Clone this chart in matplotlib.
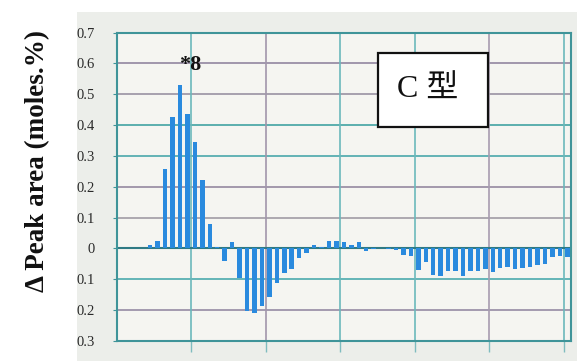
import matplotlib
matplotlib.use("Agg")
import matplotlib.pyplot as plt
from matplotlib.patches import Rectangle

# Change in peak area for each fraction (index 0..60)
fractions = list(range(61))
delta_area = [
    0.0, 0.0, 0.0, 0.0, 0.011, 0.024, 0.258, 0.425, 0.53, 0.435,
    0.345, 0.222, 0.08, 0.004, -0.04, 0.02, -0.095, -0.202, -0.208, -0.186,
    -0.156, -0.112, -0.078, -0.065, -0.03, -0.014, 0.01, 0.006, 0.025, 0.025,
    0.022, 0.01, 0.02, -0.008, -0.002, 0.0, -0.002, -0.005, -0.02, -0.025,
    -0.07, -0.045, -0.085, -0.09, -0.072, -0.072, -0.09, -0.073, -0.073, -0.068,
    -0.075, -0.062, -0.06, -0.068, -0.063, -0.06, -0.054, -0.05, -0.027, -0.023,
    -0.028,
]
y_ticks = [0.7, 0.6, 0.5, 0.4, 0.3, 0.2, 0.1, 0.0, -0.1, -0.2, -0.3]
y_tick_labels = ["0.7", "0.6", "0.5", "0.4", "0.3", "0.2", "0.1", "0", "0.1", "0.2", "0.3"]
peak_index = 8
peak_label = "*8"
type_label = "C 型"
y_label = "Δ Peak area (moles.%)"

fig = plt.figure(figsize=(5.77, 3.61), dpi=100)
fig.patch.set_facecolor("white")

# paper-coloured panel behind the chart
fig.patches.append(Rectangle((77 / 577, 0), 1, 1 - 12 / 361, transform=fig.transFigure,
                             facecolor="#eceeea", edgecolor="none", zorder=-10))

ax = fig.add_axes([116.7 / 577, 1 - 341 / 361, (571 - 116.7) / 577, (341 - 32.5) / 361])
ax.set_facecolor("#f5f5f1")

ax.set_xlim(-0.5, 60.5)
ax.set_ylim(-0.3, 0.7)

# horizontal grid lines
h_grid = [0.6, 0.5, 0.4, 0.3, 0.2, 0.1, -0.1, -0.2]
h_colors = ["#9a8ea6", "#a09aa8", "#4fa9a8", "#57aeb0", "#9c91a6", "#a7a2ab", "#58b0b2", "#9d93aa"]
for yv, c in zip(h_grid, h_colors):
    ax.axhline(yv, color=c, lw=1.3, zorder=1)

# vertical grid lines between groups of ten fractions
v_grid = [9.5, 19.5, 29.5, 39.5, 49.5, 59.5]
v_colors = ["#6bb8bb", "#a196ab", "#6bb8bb", "#6cb9bc", "#a79cb0", "#6bb8bb"]
for xv, c in zip(v_grid, v_colors):
    ax.axvline(xv, color=c, lw=1.2, zorder=1)

ax.bar(fractions, delta_area, width=0.6, color="#2a8ade", edgecolor="none", zorder=3)
ax.axhline(0, color="#2f7a84", lw=1.5, zorder=2)

for s in ax.spines.values():
    s.set_color("#3f9499")
    s.set_linewidth(1.5)

ax.set_xticks(v_grid)
ax.set_xticklabels([])
ax.tick_params(axis="x", length=8, color="#7fbcbf", width=1.0)
ax.set_yticks(y_ticks)
ax.set_yticklabels(y_tick_labels, family="Liberation Serif", fontsize=10.5, color="#2a2a2a")
ax.tick_params(axis="y", length=3, color="#3f9499", pad=13)

ax.set_ylabel(y_label, family="Liberation Serif", fontweight="bold", fontsize=19.5,
              color="#111111")
ax.yaxis.set_label_coords(-0.147, 0.585)

ax.text(peak_index + 1.4, 0.595, peak_label,
        family="Liberation Serif", fontweight="bold", fontsize=16,
        ha="center", va="center", color="#111111", zorder=5)

# label box for the profile type
ax.add_patch(Rectangle((0.575, 0.694), 0.242, 0.24, transform=ax.transAxes,
                       facecolor="white", edgecolor="#111111", lw=1.6, zorder=6))
ax.text(0.684, 0.812, type_label, transform=ax.transAxes,
        family=["Liberation Serif", "Noto Sans CJK JP"], fontsize=23,
        ha="center", va="center", color="#111111", zorder=7)

fig.savefig("out.png", dpi=100, facecolor=fig.get_facecolor())
